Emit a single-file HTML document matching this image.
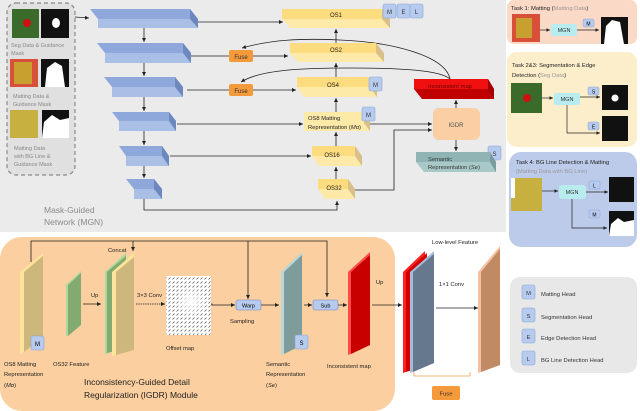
<!DOCTYPE html>
<html><head><meta charset="utf-8"><style>
html,body{margin:0;padding:0;background:#fff;}
svg{display:block;font-family:"Liberation Sans",sans-serif;}
</style></head><body>
<svg width="640" height="411" viewBox="0 0 640 411" xmlns="http://www.w3.org/2000/svg">
<defs>
<marker id="a" markerWidth="6" markerHeight="6" refX="5" refY="3" orient="auto"><path d="M0,0.5 L5,3 L0,5.5z" fill="#222"/></marker>
<pattern id="dots" width="4" height="4" patternUnits="userSpaceOnUse"><path d="M0.5,3.5 L2.5,1.5" stroke="#555" stroke-width="0.7"/></pattern>
<radialGradient id="fade"><stop offset="0" stop-color="#fff" stop-opacity="1"/><stop offset="1" stop-color="#fff" stop-opacity="0"/></radialGradient>
</defs>
<rect x="0" y="0" width="506" height="232" fill="#ebebeb"/>
<rect x="7" y="3" width="68" height="172" rx="9" fill="#e0e0e0" stroke="#888" stroke-width="1.2" stroke-dasharray="4,3"/>
<rect x="12" y="9" width="27" height="29" fill="#3b6b2a"/><circle cx="27" cy="23" r="4" fill="#d01010"/>
<rect x="41" y="9" width="28" height="29" fill="#111"/><ellipse cx="56" cy="23" rx="4" ry="5" fill="#fff"/>
<text x="11" y="47" font-size="5.5" fill="#888">Seg Data &amp; Guidance</text><text x="11" y="55" font-size="5.5" fill="#888">Mask</text>
<rect x="10" y="59" width="28" height="28" fill="#d8503a"/><rect x="14" y="62" width="18" height="22" fill="#c8a030"/>
<rect x="41" y="59" width="28" height="28" fill="#111"/><path d="M45,87 L47,68 L55,62 L62,66 L65,87z" fill="#fff"/>
<text x="13" y="98" font-size="5.5" fill="#888">Matting Data &amp;</text><text x="13" y="106" font-size="5.5" fill="#888">Guidance Mask</text>
<rect x="10" y="110" width="28" height="28" fill="#c8b040"/>
<rect x="42" y="110" width="27" height="28" fill="#111"/><path d="M42,138 L44,122 L52,115 L60,120 L69,118 L69,138z" fill="#fff"/>
<text x="14" y="150" font-size="5.5" fill="#888">Matting Data</text><text x="14" y="158" font-size="5.5" fill="#888">with BG Line &amp;</text><text x="14" y="166" font-size="5.5" fill="#888">Guidance Mask</text>
<text x="44" y="213" font-size="8.5" fill="#8a8a8a">Mask-Guided</text><text x="44" y="225" font-size="8.5" fill="#8a8a8a">Network (MGN)</text>
<g stroke="none">
<path d="M90,9 L190,9 L198,19 L98,19z" fill="#8fa8dc"/><rect x="98" y="19" width="100" height="9" fill="#a9bfe6"/><path d="M190,9 L198,19 L198,28 L190,19z" fill="#6d88bf"/>
<path d="M97,43 L183,43 L191,53 L105,53z" fill="#8fa8dc"/><rect x="105" y="53" width="86" height="10" fill="#a9bfe6"/><path d="M183,43 L191,53 L191,63 L183,53z" fill="#6d88bf"/>
<path d="M104,77 L175,77 L183,87 L112,87z" fill="#8fa8dc"/><rect x="112" y="87" width="71" height="10" fill="#a9bfe6"/><path d="M175,77 L183,87 L183,97 L175,87z" fill="#6d88bf"/>
<path d="M112,112 L169,112 L176,121 L119,121z" fill="#8fa8dc"/><rect x="119" y="121" width="57" height="10" fill="#a9bfe6"/><path d="M169,112 L176,121 L176,131 L169,121z" fill="#6d88bf"/>
<path d="M119,146 L162,146 L169,156 L126,156z" fill="#8fa8dc"/><rect x="126" y="156" width="43" height="10" fill="#a9bfe6"/><path d="M162,146 L169,156 L169,166 L162,156z" fill="#6d88bf"/>
<path d="M126,179 L154,179 L162,189 L134,189z" fill="#8fa8dc"/><rect x="134" y="189" width="28" height="10" fill="#a9bfe6"/><path d="M154,179 L162,189 L162,199 L154,189z" fill="#6d88bf"/>
</g>
<g stroke="#222" stroke-width="0.8" fill="none">
<path d="M75,17 L89,18" marker-end="url(#a)"/>
<path d="M144,28 L144,42" marker-end="url(#a)"/><path d="M144,63 L144,76" marker-end="url(#a)"/><path d="M144,97 L144,111" marker-end="url(#a)"/><path d="M144,131 L144,145" marker-end="url(#a)"/><path d="M144,166 L144,178" marker-end="url(#a)"/>
<path d="M144,199 L144,210 L337,210 L337,201" marker-end="url(#a)"/>
<path d="M198,22 L283,22" marker-end="url(#a)"/>
<path d="M191,56 L229,56"/><path d="M253,56 L288,56" marker-end="url(#a)"/>
<path d="M187,90 L229,90"/><path d="M253,90 L296,90" marker-end="url(#a)"/>
<path d="M177,124 L303,124" marker-end="url(#a)"/>
<path d="M170,156 L311,156" marker-end="url(#a)"/>
<path d="M355,190 L394,190 L394,130 L432,130" marker-end="url(#a)"/>
<path d="M370,124 L432,124" marker-end="url(#a)"/>
<path d="M336,179 L336,167" marker-end="url(#a)"/><path d="M336,146 L336,132" marker-end="url(#a)"/><path d="M336,112 L336,98" marker-end="url(#a)"/><path d="M336,77 L336,63" marker-end="url(#a)"/><path d="M336,43 L336,29" marker-end="url(#a)"/>
<path d="M456,108 L456,100" marker-end="url(#a)"/><path d="M456,140 L456,151" marker-end="url(#a)"/>
<path d="M450,79 C445,55 390,42 340,40 C300,38 270,40 242,48" marker-end="url(#a)"/>
<path d="M450,79 C440,70 400,68 350,68 C300,68 260,70 241,82" marker-end="url(#a)"/>
</g>
<path d="M282,9 L382,9 L390,19 L390,28 L290,28 L282,19z" fill="#fde9a8"/><rect x="282" y="9" width="100" height="10" fill="#fddc7f"/><path d="M382,9 L390,19 L390,28 L382,19z" fill="#d9c08a"/>
<text x="336" y="17" font-size="6" text-anchor="middle" fill="#222">OS1</text>
<path d="M290,43 L376,43 L384,53 L384,62 L298,62 L290,53z" fill="#fde9a8"/><rect x="290" y="43" width="86" height="10" fill="#fddc7f"/><path d="M376,43 L384,53 L384,62 L376,53z" fill="#d9c08a"/>
<text x="336" y="52" font-size="6" text-anchor="middle" fill="#222">OS2</text>
<path d="M297,77 L370,77 L377,87 L377,97 L304,97 L297,87z" fill="#fde9a8"/><rect x="297" y="77" width="73" height="10" fill="#fddc7f"/><path d="M370,77 L377,87 L377,97 L370,87z" fill="#d9c08a"/>
<text x="333" y="87" font-size="6" text-anchor="middle" fill="#222">OS4</text>
<rect x="304" y="112" width="66" height="19" fill="#fde9a8"/><path d="M364,112 L370,120 L370,131 L364,123z" fill="#d9c08a"/>
<text x="308" y="120" font-size="5.8" fill="#222">OS8 Matting</text><text x="308" y="129" font-size="5.8" fill="#222">Representation (<tspan font-style="italic">Mα</tspan>)</text>
<path d="M312,146 L355,146 L362,156 L362,166 L319,166 L312,156z" fill="#fde9a8"/><rect x="312" y="146" width="43" height="10" fill="#fddc7f"/><path d="M355,146 L362,156 L362,166 L355,156z" fill="#d9c08a"/>
<text x="332" y="157" font-size="6" text-anchor="middle" fill="#222">OS16</text>
<path d="M318,179 L348,179 L355,189 L355,199 L325,199 L318,189z" fill="#fde9a8"/><rect x="318" y="179" width="30" height="10" fill="#fddc7f"/><path d="M348,179 L355,189 L355,199 L348,189z" fill="#d9c08a"/>
<text x="334" y="190" font-size="6" text-anchor="middle" fill="#222">OS32</text>
<g font-size="6" text-anchor="middle" fill="#333">
<rect x="383" y="4" width="13" height="14" rx="2" fill="#b7cbee" stroke="#8aa4d6" stroke-width="0.6"/><text x="389.5" y="14">M</text>
<rect x="397" y="4" width="13" height="14" rx="2" fill="#b7cbee" stroke="#8aa4d6" stroke-width="0.6"/><text x="403.5" y="14">E</text>
<rect x="410" y="4" width="13" height="14" rx="2" fill="#b7cbee" stroke="#8aa4d6" stroke-width="0.6"/><text x="416.5" y="14">L</text>
<rect x="369" y="77" width="13" height="14" rx="2" fill="#b7cbee" stroke="#8aa4d6" stroke-width="0.6"/><text x="375.5" y="87">M</text>
<rect x="362" y="107" width="13" height="14" rx="2" fill="#b7cbee" stroke="#8aa4d6" stroke-width="0.6"/><text x="368.5" y="117">M</text>
<rect x="488" y="146" width="13" height="14" rx="2" fill="#b7cbee" stroke="#8aa4d6" stroke-width="0.6"/><text x="494.5" y="156">S</text>
</g>
<rect x="229" y="50" width="24" height="12" rx="2" fill="#f59a3a"/><text x="241" y="59" font-size="6" text-anchor="middle" fill="#333">Fuse</text>
<rect x="229" y="84" width="24" height="12" rx="2" fill="#f59a3a"/><text x="241" y="93" font-size="6" text-anchor="middle" fill="#333">Fuse</text>
<path d="M414,79 L488,79 L494,89 L494,99 L422,99 L414,89z" fill="#c00000"/><rect x="414" y="79" width="74" height="10" fill="#f01010"/><path d="M488,79 L494,89 L494,99 L488,89z" fill="#a00000"/>
<text x="450" y="88" font-size="5.8" text-anchor="middle" fill="#600">Inconsistent map</text>
<rect x="433" y="108" width="47" height="32" rx="6" fill="#fbcfa3"/><text x="456" y="127" font-size="6" text-anchor="middle" fill="#555">IGDR</text>
<path d="M416,152 L490,152 L496,162 L496,172 L424,172 L416,162z" fill="#a9c9c8"/><rect x="416" y="152" width="74" height="10" fill="#90b4b4"/><path d="M490,152 L496,162 L496,172 L490,162z" fill="#7a9c9c"/>
<text x="428" y="161" font-size="5.8" fill="#333">Semantic</text><text x="428" y="169" font-size="5.8" fill="#333">Representation (<tspan font-style="italic">Se</tspan>)</text>
<rect x="507" y="0" width="130" height="44" rx="7" fill="#fbd9c7"/>
<text x="511" y="10" font-size="5.8" fill="#222">Task 1: Matting (<tspan fill="#999">Matting Data</tspan>)</text>
<rect x="512" y="14" width="28" height="28" fill="#d8503a"/><rect x="516" y="18" width="16" height="20" fill="#c8a030"/>
<rect x="551" y="24" width="26" height="12" rx="2" fill="#b8ecee"/><text x="564" y="32" font-size="5.5" text-anchor="middle" fill="#333">MGN</text>
<path d="M577,30 L599,30" stroke="#222" stroke-width="0.7" marker-end="url(#a)"/>
<path d="M540,30 L550,30" stroke="#222" stroke-width="0.7" marker-end="url(#a)"/>
<rect x="583" y="19" width="11" height="8" rx="1.5" fill="#b7cbee" stroke="#8aa4d6" stroke-width="0.5"/><text x="588.5" y="25.5" font-size="5" text-anchor="middle">M</text>
<rect x="601" y="17" width="27" height="27" fill="#111"/><path d="M604,44 L606,26 L612,20 L620,22 L624,44z" fill="#fff"/>
<rect x="507" y="52" width="130" height="95" rx="10" fill="#fdeecb"/>
<text x="512" y="67" font-size="5.8" fill="#222">Task 2&amp;3: Segmentation &amp; Edge</text><text x="512" y="77" font-size="5.8" fill="#222">Detection (<tspan fill="#999">Seg Data</tspan>)</text>
<rect x="511" y="83" width="31" height="30" fill="#3b6b2a"/><circle cx="527" cy="98" r="4" fill="#d01010"/>
<rect x="554" y="93" width="26" height="12" rx="2" fill="#b8ecee"/><text x="567" y="101" font-size="5.5" text-anchor="middle" fill="#333">MGN</text>
<g stroke="#222" stroke-width="0.7" fill="none"><path d="M542,98 L553,98" marker-end="url(#a)"/><path d="M580,97 L600,97" marker-end="url(#a)"/><path d="M567,105 L567,133 L600,133" marker-end="url(#a)"/></g>
<rect x="588" y="87" width="11" height="8" rx="1.5" fill="#b7cbee" stroke="#8aa4d6" stroke-width="0.5"/><text x="593.5" y="93.5" font-size="5" text-anchor="middle">S</text>
<rect x="588" y="122" width="11" height="8" rx="1.5" fill="#b7cbee" stroke="#8aa4d6" stroke-width="0.5"/><text x="593.5" y="128.5" font-size="5" text-anchor="middle">E</text>
<rect x="602" y="85" width="26" height="25" fill="#111"/><circle cx="615" cy="98" r="3.5" fill="#fff"/>
<rect x="602" y="116" width="26" height="25" fill="#111"/>
<rect x="509" y="152" width="128" height="95" rx="12" fill="#bccbea"/>
<text x="516" y="164" font-size="5.8" fill="#222">Task 4: BG Line Detection &amp; Matting</text><text x="516" y="173" font-size="5.8" fill="#999">(Matting Data with BG Line)</text>
<rect x="511" y="178" width="31" height="33" fill="#c8b040"/><rect x="511" y="178" width="4" height="20" fill="#fff"/>
<rect x="559" y="185" width="27" height="14" rx="3" fill="#b8ecee"/><text x="572" y="194" font-size="5.5" text-anchor="middle" fill="#333">MGN</text>
<g stroke="#222" stroke-width="0.7" fill="none"><path d="M542,191 L558,191" marker-end="url(#a)"/><path d="M586,192 L608,192" marker-end="url(#a)"/><path d="M572,199 L572,228 L607,228" marker-end="url(#a)"/></g>
<rect x="589" y="181" width="11" height="8" rx="1.5" fill="#b7cbee" stroke="#8aa4d6" stroke-width="0.5"/><text x="594.5" y="187.5" font-size="5" text-anchor="middle">L</text>
<rect x="589" y="210" width="11" height="8" rx="1.5" fill="#b7cbee" stroke="#8aa4d6" stroke-width="0.5"/><text x="594.5" y="216.5" font-size="5" text-anchor="middle">M</text>
<rect x="609" y="177" width="25" height="25" fill="#111"/>
<rect x="609" y="211" width="25" height="25" fill="#111"/><path d="M609,236 L611,224 L618,218 L624,222 L634,220 L634,236z" fill="#fff"/>
<rect x="510" y="277" width="127" height="96" rx="10" fill="#e8e8e8"/>
<g font-size="5.8" fill="#333">
<rect x="522" y="285" width="13" height="14" rx="2" fill="#b7cbee" stroke="#8aa4d6" stroke-width="0.6"/><text x="528.5" y="295" text-anchor="middle">M</text><text x="541" y="296">Matting Head</text>
<rect x="522" y="308" width="13" height="14" rx="2" fill="#b7cbee" stroke="#8aa4d6" stroke-width="0.6"/><text x="528.5" y="318" text-anchor="middle">S</text><text x="541" y="319">Segmentation Head</text>
<rect x="522" y="329" width="13" height="14" rx="2" fill="#b7cbee" stroke="#8aa4d6" stroke-width="0.6"/><text x="528.5" y="339" text-anchor="middle">E</text><text x="541" y="340">Edge Detection  Head</text>
<rect x="522" y="351" width="13" height="14" rx="2" fill="#b7cbee" stroke="#8aa4d6" stroke-width="0.6"/><text x="528.5" y="361" text-anchor="middle">L</text><text x="541" y="362">BG Line Detection  Head</text>
</g>
<rect x="0" y="237" width="395" height="174" rx="22" fill="#fbcf9f"/>
<g stroke="#222" stroke-width="0.8" fill="none">
<path d="M31,262 L31,241 L327,241 L327,297" marker-end="url(#a)"/>
<path d="M133,241 L133,251" marker-end="url(#a)"/>
<path d="M248,241 L248,299" marker-end="url(#a)"/>
<path d="M83,304 L101,304" marker-end="url(#a)"/>
<path d="M136,304 L165,304" marker-end="url(#a)" stroke-dasharray="1.5,0.8"/>
<path d="M205,304 L212,304 L212,305 L235,305" marker-end="url(#a)"/>
<path d="M261,305 L279,305" marker-end="url(#a)"/>
<path d="M304,305 L312,305" marker-end="url(#a)"/>
<path d="M338,305 L347,305" marker-end="url(#a)"/>
<path d="M372,305 L402,305" marker-end="url(#a)"/>
<path d="M436,308 L478,308" marker-end="url(#a)"/>
<path d="M414,372 L414,376 L470,376 L470,372" stroke="#f5a050"/>
</g>
<path d="M20,272 L43,253 L43,337 L20,354z" fill="#fce59a"/><path d="M24,272 L43,256 L43,337 L24,352z" fill="#cdb77c"/>
<rect x="31" y="336" width="13" height="14" rx="2" fill="#b7cbee" stroke="#8aa4d6" stroke-width="0.6"/><text x="37.5" y="346" font-size="6" text-anchor="middle">M</text>
<path d="M66,285 L81,271 L81,325 L66,337z" fill="#a8d8a0"/><path d="M68,285 L81,273 L81,325 L68,336z" fill="#84ab6f"/>
<path d="M105,272 L126,253 L126,348 L105,354z" fill="#a8d8a0"/><path d="M107,272 L126,256 L126,348 L107,353z" fill="#84ab6f"/>
<path d="M112,272 L134,253 L134,350 L112,356z" fill="#fce59a"/><path d="M116,272 L134,257 L134,350 L116,355z" fill="#cdb77c"/>
<rect x="166" y="276" width="45" height="59" fill="#fff"/><rect x="166" y="276" width="45" height="59" fill="url(#dots)"/><circle cx="191" cy="302" r="16" fill="url(#fade)"/>
<path d="M281,272 L302,252 L302,345 L281,355z" fill="#b8d6dc"/><path d="M284,272 L302,255 L302,345 L284,354z" fill="#7e9c9a"/>
<rect x="295" y="335" width="13" height="14" rx="2" fill="#b7cbee" stroke="#8aa4d6" stroke-width="0.6"/><text x="301.5" y="345" font-size="6" text-anchor="middle">S</text>
<path d="M348,272 L370,252 L370,345 L348,355z" fill="#ff4a4a"/><path d="M351,272 L370,255 L370,345 L351,354z" fill="#c80000"/>
<path d="M403,272 L425,251 L425,365 L403,373z" fill="#ff2020"/><path d="M406,272 L427,253 L427,365 L406,372z" fill="#d00000"/>
<path d="M410,272 L434,251 L434,363 L410,373z" fill="#a8bad6"/><path d="M413,272 L434,254 L434,363 L413,372z" fill="#66788e"/>
<path d="M478,272 L500,246 L500,365 L478,373z" fill="#f5c0a0"/><path d="M481,272 L500,249 L500,365 L481,372z" fill="#c08a65"/>
<rect x="236" y="300" width="25" height="10" rx="2" fill="#b7cbee" stroke="#6d88bf" stroke-width="0.6"/><text x="248.5" y="307.5" font-size="5.5" text-anchor="middle">Warp</text>
<rect x="313" y="300" width="25" height="10" rx="2" fill="#b7cbee" stroke="#6d88bf" stroke-width="0.6"/><text x="325.5" y="307.5" font-size="5.5" text-anchor="middle">Sub</text>
<rect x="432" y="386" width="28" height="14" rx="2" fill="#f59a3a"/><text x="446" y="395.5" font-size="5.8" text-anchor="middle" fill="#333">Fuse</text>
<g font-size="5.8" fill="#222">
<text x="108" y="252">Concat</text>
<text x="91" y="297">Up</text>
<text x="137" y="297">3×3 Conv</text>
<text x="166" y="350">Offset map</text>
<text x="230" y="323">Sampling</text>
<text x="376" y="284">Up</text>
<text x="432" y="244">Low-level Feature</text>
<text x="439" y="286">1×1 Conv</text>
<text x="4" y="366">OS8 Matting</text><text x="4" y="376">Representation</text><text x="4" y="387">(<tspan font-style="italic">Mα</tspan>)</text>
<text x="53" y="366">OS32 Feature</text>
<text x="266" y="366">Semantic</text><text x="266" y="376">Representation</text><text x="266" y="387">(<tspan font-style="italic">Se</tspan>)</text>
<text x="327" y="368">Inconsistent map</text>
</g>
<text x="84" y="385" font-size="8.5" fill="#222">Inconsistency-Guided Detail</text>
<text x="84" y="398" font-size="8.5" fill="#222">Regularization (IGDR) Module</text>
</svg>
</body></html>
